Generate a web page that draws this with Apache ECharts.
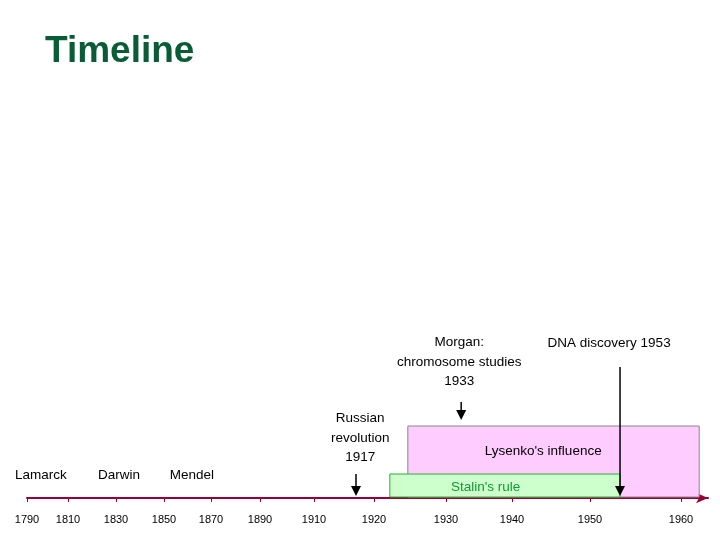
<!DOCTYPE html>
<html><head><meta charset="utf-8">
<script src="https://cdn.jsdelivr.net/npm/echarts@6/dist/echarts.min.js"></script>
<style>html,body{margin:0;padding:0;background:#fff}#c{width:720px;height:540px}</style>
</head><body><div id="c"></div>
<script>
// Tick years and their (uneven) positions along the drawn timeline
const tickYears = [1790,1810,1830,1850,1870,1890,1910,1920,1930,1940,1950,1960];
const tickPos   = [27,68,116,164,211,260,314,374,446,512,590,681];
// Periods: [label, start, end]
const periods = [["Lysenko's influence",1924.7,1962],["Stalin's rule",1922.2,1953.3]];
// Point events: [year, arrow top row, arrow bottom row]
const events = [[1917,474,496],[1932.3,402,420],[1953.3,367,496]];
// Labels: [text, year, row]
const labels = [["Lamarck",1796.8,475],["Darwin",1831.3,475],["Mendel",1861.9,475],
  ["Russian\nrevolution\n1917",1917.7,438],["Morgan:\nchromosome studies\n1933",1932,362],
  ["DNA discovery 1953",1952.1,343],["Lysenko's influence",1944,451],["Stalin's rule",1936,487]];

function warp(y){
  for(let i=0;i<tickYears.length-1;i++){
    if(y<=tickYears[i+1]||i===tickYears.length-2){
      const t=(y-tickYears[i])/(tickYears[i+1]-tickYears[i]);
      return tickPos[i]+t*(tickPos[i+1]-tickPos[i]);
    }
  }
}
const chart=echarts.init(document.getElementById('c'));
const periodStyle=[{fill:'#ffccff',stroke:'#888',top:426},{fill:'#ccffcc',stroke:'#33aa33',top:474}];
chart.setOption({
  animation:false,
  title:{text:'Timeline',left:40,top:28,textStyle:{fontFamily:'Liberation Sans Narrow, Arial',fontSize:37,fontWeight:'bold',color:'#0a5c36'}},
  grid:{left:27,right:12,top:0,bottom:42},
  xAxis:{type:'value',min:27,max:708,position:'bottom',splitLine:{show:false},
    axisLine:{onZero:false,lineStyle:{color:'#990033',width:2},symbol:['none','arrow'],symbolSize:[8,12]},
    axisTick:{customValues:tickPos,length:4,lineStyle:{color:'#990033'}},
    axisLabel:{customValues:tickPos,fontSize:11,color:'#000',fontFamily:'Arial',margin:16,
      formatter:v=>{const i=tickPos.indexOf(v);return i>=0?String(tickYears[i]):'';}}},
  yAxis:{type:'value',min:0,max:498,inverse:true,show:false},
  series:[
    {type:'custom',data:periods.map((p,i)=>[p[1],p[2],i]),renderItem:(params,api)=>{
      const i=api.value(2),s=periodStyle[i];
      const a=api.coord([warp(api.value(0)),s.top]),b=api.coord([warp(api.value(1)),497]);
      return {type:'rect',shape:{x:a[0],y:a[1],width:b[0]-a[0],height:b[1]-a[1]},style:{fill:s.fill,stroke:s.stroke,lineWidth:1}};
    }},
    {type:'custom',data:events,renderItem:(params,api)=>{
      const x=warp(api.value(0));const t=api.coord([x,api.value(1)]),b=api.coord([x,api.value(2)]);
      return {type:'group',children:[
        {type:'line',shape:{x1:t[0],y1:t[1],x2:b[0],y2:b[1]-8},style:{stroke:'#000',lineWidth:1.5}},
        {type:'polygon',shape:{points:[[b[0]-5,b[1]-10],[b[0]+5,b[1]-10],[b[0],b[1]]]},style:{fill:'#000'}}]};
    }},
    {type:'custom',data:labels.map(l=>[l[1],l[2]]),renderItem:(params,api)=>{
      const d=labels[params.dataIndex];const p=api.coord([warp(d[1]),d[2]]);
      return {type:'text',x:p[0],y:p[1],style:{text:d[0],fontSize:13.5,fontFamily:'Arial',lineHeight:19.5,
        fill:d[0]==="Stalin's rule"?'#119933':'#000',align:'center',verticalAlign:'middle'}};
    }}
  ]
});
</script></body></html>
